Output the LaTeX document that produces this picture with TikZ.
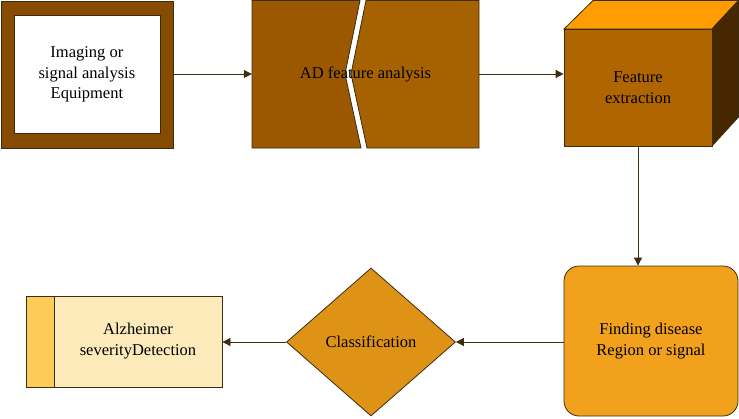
\documentclass[tikz,border=0pt]{standalone}
\usepackage{fontspec}
\setmainfont{Liberation Serif}
\usetikzlibrary{shapes.geometric,arrows.meta}
\definecolor{edge}{HTML}{3C2C10}
\definecolor{boxouter}{HTML}{874B00}
\definecolor{splitl}{HTML}{9C5800}
\definecolor{splitr}{HTML}{A66200}
\definecolor{cubefront}{HTML}{B06600}
\definecolor{cubetop}{HTML}{FF9C00}
\definecolor{cubeside}{HTML}{472700}
\definecolor{roundfill}{HTML}{F2A11D}
\definecolor{diafill}{HTML}{DF9316}
\definecolor{stripfill}{HTML}{FDCB58}
\definecolor{mainfill}{HTML}{FDEABA}
\tikzset{
  shapeline/.style={draw=edge, line width=0.8pt},
  lbl/.style={font=\fontsize{16.5}{20.5}\selectfont, align=center, text=black},
  conn/.style={draw=edge, line width=0.8pt, -{Triangle[length=8pt,width=8pt]}},
}
\begin{document}
\begin{tikzpicture}[x=1pt,y=-1pt]
\useasboundingbox (0,0) rectangle (739,418);
% Box 1
\node[shapeline, fill=boxouter, minimum width=172pt, minimum height=147pt, anchor=north west, inner sep=0pt] (b1) at (0.5,0.5) {};
\node[shapeline, fill=white, minimum width=146pt, minimum height=118pt, inner sep=0pt, lbl] (b1in) at (b1.center) {Imaging or\\signal analysis\\Equipment};
% Box 2 (split)
\fill[splitl, shapeline] (252,0.5) -- (360,0.5) -- (345,74) -- (361,148) -- (252,148) -- cycle;
\fill[splitr, shapeline] (366,0.5) -- (479,0.5) -- (479,148) -- (367,148) -- (351,74) -- cycle;
\node[minimum width=227pt, minimum height=148pt, inner sep=0pt, lbl] (b2) at (365.5,74) {AD feature analysis};
% Cube
\fill[cubetop, shapeline] (564,29) -- (593,0.5) -- (738.5,0.5) -- (712,29) -- cycle;
\fill[cubeside, shapeline] (712,29) -- (738.5,0.5) -- (738.5,117) -- (712,146) -- cycle;
\node[shapeline, fill=cubefront, minimum width=148pt, minimum height=117pt, inner sep=0pt, lbl] (b3) at (638,87.5) {Feature\\extraction};
% Rounded box
\node[shapeline, fill=roundfill, rounded corners=15pt, minimum width=174pt, minimum height=150pt, inner sep=0pt, lbl] (b4) at (651,341) {Finding disease\\Region or signal};
% Diamond
\node[shapeline, fill=diafill, diamond, minimum width=169pt, minimum height=148pt, inner sep=0pt, lbl] (b5) at (371,342) {Classification};
% Final box
\node[shapeline, fill=mainfill, minimum width=196pt, minimum height=91pt, inner sep=0pt] (b6) at (124,341.5) {};
\node[shapeline, fill=stripfill, minimum width=28pt, minimum height=91pt, inner sep=0pt, anchor=west] (b6s) at (b6.west) {};
\node[lbl] (b6t) at (138,341) {Alzheimer\\severityDetection};
% Connectors
\draw[conn] (b1.east |- 0,74) -- (b2.west |- 0,74);
\draw[conn] (b2.east |- 0,74) -- (b3.west |- 0,74);
\draw[conn] (b3.south) -- (b3.south |- b4.north);
\draw[conn] (b4.west |- b5.east) -- (b5.east);
\draw[conn] (b5.west) -- (b6.east |- b5.west);
\end{tikzpicture}
\end{document}
